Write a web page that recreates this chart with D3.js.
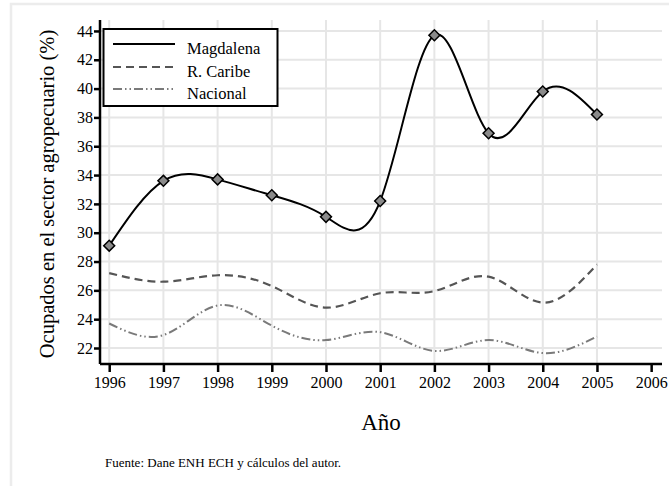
<!DOCTYPE html>
<html><head><meta charset="utf-8">
<script src="https://cdn.jsdelivr.net/npm/d3@7"></script>
<style>body{margin:0;background:#fff}svg{display:block}text{font-family:"Liberation Serif","Times New Roman",serif}</style>
</head><body>
<script>
const years = [1996,1997,1998,1999,2000,2001,2002,2003,2004,2005];
const magdalena = [29.1,33.6,33.7,32.6,31.1,32.2,43.7,36.9,39.8,38.2];
const caribe = [27.2,26.6,27.05,26.3,24.8,25.8,25.95,26.95,25.15,27.8];
const nacional = [23.7,22.9,24.95,23.55,22.55,23.1,21.8,22.55,21.65,22.8];
const xTicks = [1996,1997,1998,1999,2000,2001,2002,2003,2004,2005,2006];
const yTicks = [22,24,26,28,30,32,34,36,38,40,42,44];
const seriesNames = ["Magdalena","R. Caribe","Nacional"];

const W=669,H=486;
const svg=d3.select("body").append("svg").attr("width",W).attr("height",H);
// outer frame
svg.append("rect").attr("x",11).attr("y",4).attr("width",W).attr("height",H).attr("fill","none").attr("stroke","#ececec").attr("stroke-width",2.5);

const x=d3.scaleLinear().domain([1995.83,2006.2]).range([100,662]);
const y=d3.scaleLinear().domain([20.89,44.76]).range([364,20]);

// grid
const g=svg.append("g");
g.selectAll(".hg").data(yTicks).join("line").attr("x1",100).attr("x2",662)
 .attr("y1",d=>y(d)).attr("y2",d=>y(d)).attr("stroke","#e6e6e6").attr("stroke-width",2);
g.selectAll(".vg").data(years).join("line").attr("y1",20).attr("y2",364)
 .attr("x1",d=>x(d)).attr("x2",d=>x(d)).attr("stroke","#e6e6e6").attr("stroke-width",2);

// axes
const xAxis=svg.append("g").attr("transform","translate(0,364)")
 .call(d3.axisBottom(x).tickValues(xTicks).tickFormat(d3.format("d")).tickSize(8).tickPadding(5));
const yAxis=svg.append("g").attr("transform","translate(100,0)")
 .call(d3.axisLeft(y).tickValues(yTicks).tickFormat(d3.format("d")).tickSize(6).tickPadding(1));
[xAxis,yAxis].forEach(a=>{
 a.attr("font-family","Liberation Serif").attr("font-size",16);
 a.select(".domain").attr("stroke","#000").attr("stroke-width",2.5);
 a.selectAll(".tick line").attr("stroke","#000").attr("stroke-width",2.5);
 a.selectAll(".tick text").attr("fill","#000").style("font-size","16px");
});
xAxis.select(".domain").attr("d","M100,0H662");
yAxis.select(".domain").attr("d","M0,20V364");

// lines
const line=d3.line().x(d=>x(d[0])).y(d=>y(d[1])).curve(d3.curveNatural);
const zip=v=>years.map((yr,i)=>[yr,v[i]]);
svg.append("path").attr("d",line(zip(nacional))).attr("fill","none").attr("stroke","#7a7a7a").attr("stroke-width",2).attr("stroke-dasharray","9,3,1.5,3,1.5,3");
svg.append("path").attr("d",line(zip(caribe))).attr("fill","none").attr("stroke","#555").attr("stroke-width",2.2).attr("stroke-dasharray","8,5");
svg.append("path").attr("d",line(zip(magdalena))).attr("fill","none").attr("stroke","#000").attr("stroke-width",2);
svg.selectAll(".pt").data(zip(magdalena)).join("path")
 .attr("d",d3.symbol(d3.symbolSquare,60))
 .attr("transform",d=>`translate(${x(d[0])},${y(d[1])}) rotate(45)`)
 .attr("fill","#8a8a8a").attr("stroke","#000").attr("stroke-width",1.5);

// legend
const lg=svg.append("g");
lg.append("rect").attr("x",103.5).attr("y",29).attr("width",174).attr("height",77).attr("fill","#fff").attr("stroke","#000").attr("stroke-width",2);
const lstyles=[{c:"#000",d:null,w:2},{c:"#555",d:"8,5",w:2.2},{c:"#7a7a7a",d:"9,3,1.5,3,1.5,3",w:2}];
const ly=[44,67,89];
seriesNames.forEach((n,i)=>{
 lg.append("line").attr("x1",113).attr("x2",175).attr("y1",ly[i]).attr("y2",ly[i]).attr("stroke",lstyles[i].c).attr("stroke-width",lstyles[i].w).attr("stroke-dasharray",lstyles[i].d);
 lg.append("text").attr("x",187).attr("y",ly[i]+10).text(n).style("font-size","16.5px");
});

// titles
svg.append("text").attr("transform","translate(54,194) rotate(-90)").attr("text-anchor","middle").style("font-size","20.5px").text("Ocupados en el sector agropecuario (%)");
svg.append("text").attr("x",381).attr("y",430).attr("text-anchor","middle").style("font-size","23px").text("Año");
svg.append("text").attr("x",105).attr("y",467).style("font-size","13px").text("Fuente: Dane ENH ECH y cálculos del autor.");
</script>
</body></html>
